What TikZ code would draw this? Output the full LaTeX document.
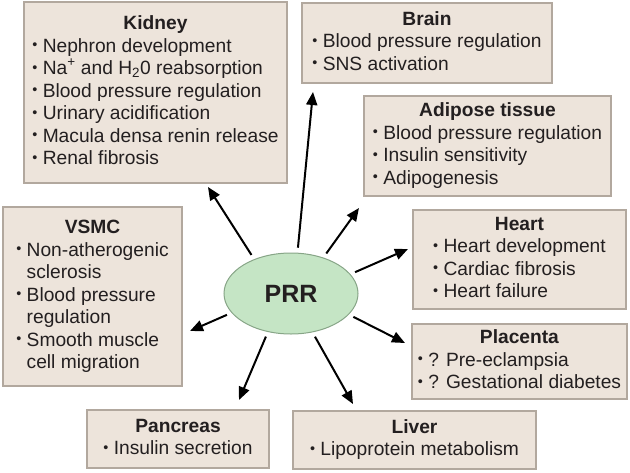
\documentclass[tikz,border=0pt]{standalone}
\usepackage{fontspec}
\setmainfont{Liberation Sans}
\usepackage{tikz}
\usetikzlibrary{arrows.meta,shapes.geometric}
\definecolor{boxfill}{RGB}{237,228,219}
\definecolor{boxedge}{RGB}{178,168,158}
\definecolor{prrfill}{RGB}{197,229,197}
\definecolor{prredge}{RGB}{135,165,135}
\definecolor{ink}{RGB}{35,31,32}
\newcommand{\bul}{\raisebox{0.12em}{\scalebox{0.75}{\textbullet}}\ }
\newcommand{\hd}[1]{\multicolumn{1}{@{}c@{}}{\textbf{#1}}}

\begin{document}
\begin{tikzpicture}[x=1pt,y=-1pt]

\tikzset{organbox/.style={draw=boxedge,fill=boxfill,text=ink,line width=1.2pt,inner sep=0pt,font=\fontsize{19.2}{22.5}\selectfont},
prrnode/.style={ellipse,draw=prredge,fill=prrfill,text=ink,line width=1pt,inner sep=0pt,minimum width=134pt,minimum height=81pt,font=\fontsize{25}{28}\selectfont\bfseries},
arr/.style={line width=2pt,-{Triangle[length=13pt,width=11pt]},shorten <=5pt}}

\useasboundingbox (0,0) rectangle (630,472);

% Receptor
\node[prrnode] (prr) at (291,293.5) {PRR};

% Organ boxes
\node[organbox,minimum width=263pt,minimum height=181pt] (kidney) at (155.5,92.5) {\begin{tabular}{@{}l@{}}\hd{Kidney}\\
\bul Nephron development\\ \bul Na\textsuperscript{+} and H\textsubscript{2}0 reabsorption\\ \bul Blood pressure regulation\\
\bul Urinary acidification\\ \bul Macula densa renin release\\ \bul Renal fibrosis\end{tabular}};
\node[organbox,minimum width=250pt,minimum height=80pt] (brain) at (427,43) {\begin{tabular}{@{}l@{}}\hd{Brain}\\
\bul Blood pressure regulation\\ \bul SNS activation\end{tabular}};
\node[organbox,minimum width=247pt,minimum height=100pt] (adipose) at (487.5,146) {\begin{tabular}{@{}l@{}}\hd{Adipose tissue}\\
\bul Blood pressure regulation\\ \bul Insulin sensitivity\\ \bul Adipogenesis\end{tabular}};
\node[organbox,minimum width=213pt,minimum height=99pt] (heart) at (519.5,259.5) {\begin{tabular}{@{}l@{}}\hd{Heart}\\
\bul Heart development\\ \bul Cardiac fibrosis\\ \bul Heart failure\end{tabular}};
\node[organbox,minimum width=215pt,minimum height=75pt] (placenta) at (519.5,361.5) {\begin{tabular}{@{}l@{}}\hd{Placenta}\\
\bul ? Pre-eclampsia\\ \bul ? Gestational diabetes\end{tabular}};
\node[organbox,minimum width=243pt,minimum height=58pt] (liver) at (414.5,440) {\begin{tabular}{@{}l@{}}\hd{Liver}\\
\bul Lipoprotein metabolism\end{tabular}};
\node[organbox,minimum width=182pt,minimum height=58pt] (pancreas) at (178,439) {\begin{tabular}{@{}l@{}}\hd{Pancreas}\\
\bul Insulin secretion\end{tabular}};
\node[organbox,minimum width=179pt,minimum height=179pt] (vsmc) at (92.5,296.5) {\begin{tabular}{@{}l@{}}\hd{VSMC}\\
\bul Non-atherogenic\\ \phantom{\bul}sclerosis\\ \bul Blood pressure\\ \phantom{\bul}regulation\\
\bul Smooth muscle\\ \phantom{\bul}cell migration\end{tabular}};

% Arrow tips
\coordinate (kidneyTip) at (208,187);
\coordinate (brainTip) at (313,92);
\coordinate (adiposeTip) at (359,208);
\coordinate (heartTip) at (408,249);
\coordinate (placentaTip) at (405,343);
\coordinate (liverTip) at (353,404);
\coordinate (pancreasTip) at (239,400);
\coordinate (vsmcTip) at (190,331);

% Arrows
\foreach \ang/\tip in {137/kidneyTip,81/brainTip,48/adiposeTip,18/heartTip,-20/placentaTip,-61/liverTip,-121/pancreasTip,-162/vsmcTip}
  \draw[arr] (prr.\ang) -- (\tip);

\end{tikzpicture}
\end{document}
